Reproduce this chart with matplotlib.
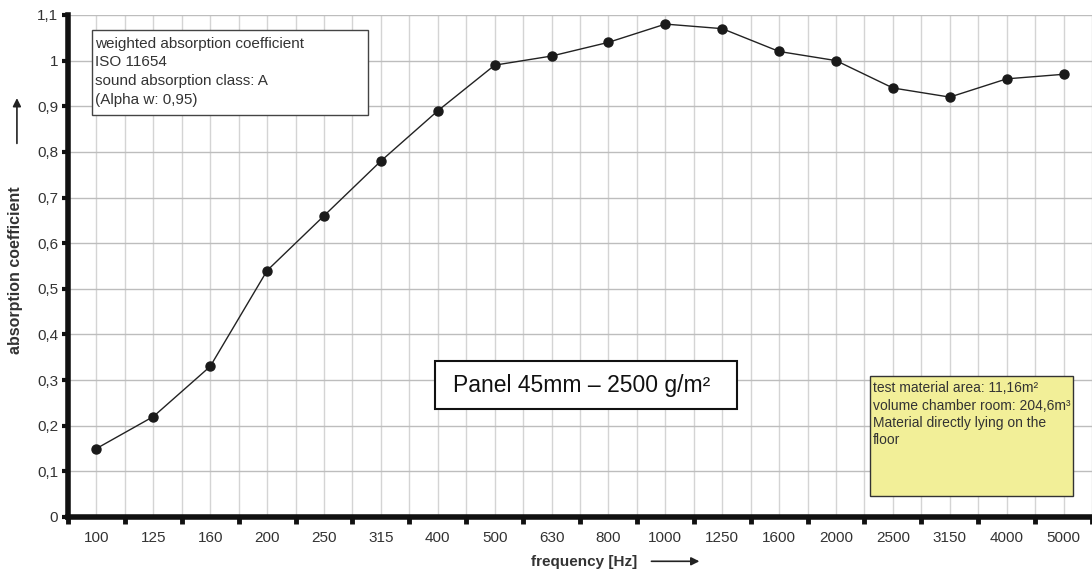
import numpy as np
import matplotlib.pyplot as plt
from matplotlib.patches import Rectangle

plt.rcParams['font.family'] = ['Liberation Sans', 'DejaVu Sans']

freqs = ['100', '125', '160', '200', '250', '315', '400', '500', '630', '800',
         '1000', '1250', '1600', '2000', '2500', '3150', '4000', '5000']
alpha = [0.15, 0.22, 0.33, 0.54, 0.66, 0.78, 0.89, 0.99, 1.01, 1.04,
         1.08, 1.07, 1.02, 1.00, 0.94, 0.92, 0.96, 0.97]
yticks = [0, 0.1, 0.2, 0.3, 0.4, 0.5, 0.6, 0.7, 0.8, 0.9, 1.0, 1.1]
ylabels = ['0', '0,1', '0,2', '0,3', '0,4', '0,5', '0,6', '0,7', '0,8', '0,9', '1', '1,1']

txt_col = '#333333'


def main():
    fig = plt.figure(figsize=(10.92, 5.71), dpi=100)
    ax = fig.add_axes([0.0623, 0.0946, 0.9377, 0.8792])

    xs = np.arange(len(freqs))
    ax.plot(xs, alpha, color='#222222', lw=1.0, marker='o', ms=6.5,
            mfc='#1a1a1a', mec='#1a1a1a', zorder=5)

    ax.set_xlim(-0.5, 17.35)
    ax.set_ylim(0, 1.1)

    # category labels at centres, tick marks at boundaries
    ax.set_xticks(xs)
    ax.set_xticklabels(freqs)
    ax.set_xticks(np.arange(-0.5, 18, 1), minor=True)
    ax.tick_params(axis='x', which='major', length=0, pad=10,
                   labelsize=11, labelcolor=txt_col)
    ax.tick_params(axis='x', which='minor', length=5, width=3.5,
                   direction='out', color='#111111')
    ax.set_yticks(yticks)
    ax.set_yticklabels(ylabels)
    ax.tick_params(axis='y', length=4, width=3, color='#111111',
                   labelsize=11, labelcolor=txt_col, pad=3)

    # grid at every half step, horizontal at every 0.1
    for x in np.arange(0, 18, 0.5):
        ax.axvline(x, color='#d4d4d4', lw=1.0, zorder=0)
    for y in yticks[1:]:
        ax.axhline(y, color='#bdbdbd', lw=1.0, zorder=0)

    for s in ['top', 'right']:
        ax.spines[s].set_visible(False)
    ax.spines['left'].set_linewidth(4)
    ax.spines['bottom'].set_linewidth(4)
    ax.spines['left'].set_color('#111111')
    ax.spines['bottom'].set_color('#111111')

    # axis labels with arrows
    fig.text(0.0145, 0.527, 'absorption coefficient', rotation=90,
             ha='center', va='center', fontsize=11.5, fontweight='bold',
             color=txt_col)
    fig.add_artist(plt.Annotation('', xy=(0.0155, 0.833), xytext=(0.0155, 0.744),
                                  xycoords='figure fraction',
                                  arrowprops=dict(arrowstyle='-|>', color='#222222',
                                                  lw=1.2, mutation_scale=12)))
    fig.text(0.535, 0.004, 'frequency [Hz]', ha='center', va='bottom',
             fontsize=11, fontweight='bold', color=txt_col)
    fig.add_artist(plt.Annotation('', xy=(0.643, 0.017), xytext=(0.594, 0.017),
                                  xycoords='figure fraction',
                                  arrowprops=dict(arrowstyle='-|>', color='#222222',
                                                  lw=1.2, mutation_scale=12)))

    # info box top left
    ax.add_patch(Rectangle((-0.087, 0.881), 4.867, 0.186, fc='white',
                           ec='#444444', lw=1.0, zorder=6))
    ax.text(-0.02, 1.052,
            'weighted absorption coefficient\nISO 11654\n'
            'sound absorption class: A\n(Alpha w: 0,95)',
            ha='left', va='top', fontsize=11, color=txt_col, linespacing=1.42,
            zorder=7)

    # panel title box
    ax.add_patch(Rectangle((5.95, 0.237), 5.31, 0.105, fc='white',
                           ec='#111111', lw=1.5, zorder=6))
    ax.text(6.26, 0.289, 'Panel 45mm \u2013 2500 g/m\u00b2',
            ha='left', va='center', fontsize=16.5, color='#111111',
            family=['Liberation Sans Narrow', 'Liberation Sans', 'DejaVu Sans'],
            zorder=7)

    # yellow note box
    ax.add_patch(Rectangle((13.60, 0.046), 3.56, 0.263, fc='#f2ef98',
                           ec='#333333', lw=1.0, zorder=6))
    ax.text(13.655, 0.297,
            'test material area: 11,16m\u00b2\nvolume chamber room: 204,6m\u00b3\n'
            'Material directly lying on the\nfloor',
            ha='left', va='top', fontsize=10, color=txt_col, linespacing=1.3,
            zorder=7)

    plt.savefig('out.png', dpi=100)
    plt.close()


if __name__ == "__main__":
    main()
